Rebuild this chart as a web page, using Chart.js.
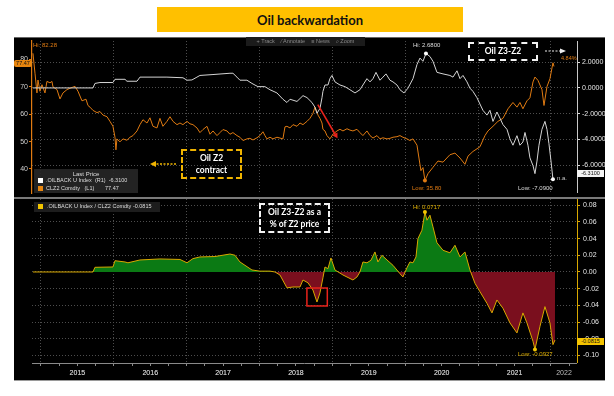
<!DOCTYPE html>
<html><head><meta charset="utf-8">
<script src="https://cdn.jsdelivr.net/npm/chart.js@4.4.0/dist/chart.umd.min.js"></script>
<style>
html,body{margin:0;padding:0;background:#fff;width:614px;height:396px;overflow:hidden;font-family:"Liberation Sans",Arial,sans-serif}
#panel{position:absolute;left:14px;top:37px;width:591px;height:344px;background:#000}
canvas{position:absolute}
.t{position:absolute;white-space:nowrap;line-height:1;font-size:6px}
.box{position:absolute;box-sizing:border-box;color:#fff;font-family:Lato,"Open Sans",sans-serif;font-weight:bold;text-align:center;display:flex;flex-direction:column;justify-content:center;line-height:1.45;font-size:8.5px}
.hl{position:absolute;height:1px}
</style></head><body>
<div id="panel"></div>
<div class="hl" style="left:14px;top:37px;width:591px;background:#666"></div>
<div class="hl" style="left:14px;top:197px;width:591px;height:2px;background:#7a7a7a"></div>
<div class="hl" style="left:14px;top:380px;width:591px;background:#9a9a9a"></div>
<canvas id="c1" width="591" height="160" style="left:14px;top:37px"></canvas>
<canvas id="c2" width="591" height="182" style="left:14px;top:199px"></canvas>

<div style="position:absolute;left:157px;top:7px;width:306px;height:25px;background:#ffc000;display:flex;align-items:center;justify-content:center;font-family:Lato,sans-serif;font-weight:bold;font-size:13px;color:#111">Oil backwardation</div>

<div class="t" style="left:246px;top:37px;width:119px;height:9px;background:#1b1b1b;color:#8a8a8a;font-size:5.5px;line-height:9px;text-align:center">+ Track &nbsp;&nbsp; ⁄ Annotate &nbsp;&nbsp; ≡ News &nbsp;&nbsp; ⌕ Zoom</div>

<div class="t" style="left:33px;top:42px;color:#e07b12">Hi: 82.28</div>
<div class="t" style="left:14px;top:60px;width:18px;height:7px;line-height:7px;background:#e8860f;color:#111;text-align:center;border-radius:2px;font-size:5.5px">77.47</div>
<div class="t" style="left:413px;top:42px;color:#ddd">Hi: 2.6800</div>
<div class="box" style="left:468px;top:42px;width:70px;height:19px;border:2px dashed #f2f2f2">Oil Z3-Z2</div>
<div class="t" style="left:561px;top:56px;color:#e07b12;font-size:5.5px">4.84%</div>
<div class="t" style="left:557px;top:175px;color:#ccc">n.a.</div>
<div class="t" style="left:577px;top:170px;width:27px;height:7px;line-height:7px;background:#f4f4f4;color:#111;text-align:center;font-size:5.5px">-6.3100</div>
<div class="t" style="left:518px;top:185px;color:#ddd">Low: -7.0900</div>
<div class="t" style="left:412px;top:185px;color:#e07b12">Low: 35.80</div>

<div class="t" style="left:34px;top:169px;width:104px;height:24px;background:rgba(38,38,38,0.92)"></div>
<div class="t" style="left:34px;top:171px;width:104px;text-align:center;color:#ddd;font-size:6px">Last Price</div>
<div class="t" style="left:38px;top:178px;width:5px;height:5px;background:#fff"></div>
<div class="t" style="left:46px;top:178px;color:#ddd;font-size:5.5px">.OILBACK U Index &nbsp;(R1) &nbsp;-6.3100</div>
<div class="t" style="left:38px;top:186px;width:5px;height:5px;background:#e8860f"></div>
<div class="t" style="left:46px;top:186px;color:#ddd;font-size:5.5px">CLZ2 Comdty &nbsp;&nbsp;(L1) &nbsp;&nbsp;&nbsp;&nbsp;&nbsp;&nbsp;77.47</div>

<div class="box" style="left:181px;top:149px;width:61px;height:30px;border:2px dashed #f0b400">Oil Z2<br>contract</div>

<div class="t" style="left:34px;top:202px;width:126px;height:10px;background:#1d1d1d"></div>
<div class="t" style="left:38px;top:204px;width:5px;height:5px;background:#f2c500"></div>
<div class="t" style="left:47px;top:204px;color:#ddd;font-size:5.5px">.OILBACK U Index / CLZ2 Comdty -0.0815</div>
<div class="box" style="left:259px;top:203px;width:71px;height:30px;border:2px dashed #f2f2f2">Oil Z3-Z2 as a<br>% of Z2 price</div>
<div class="t" style="left:413px;top:204px;color:#e0b000">Hi: 0.0717</div>
<div class="t" style="left:518px;top:351px;color:#e0b000">Low: -0.0927</div>
<div class="t" style="left:577px;top:338px;width:27px;height:7px;line-height:7px;background:#f5c400;color:#111;text-align:center;font-size:5.5px">-0.0815</div>

<svg style="position:absolute;left:0;top:0" width="614" height="396">
  <line x1="176" y1="164" x2="155" y2="164" stroke="#f0b400" stroke-width="1.5" stroke-dasharray="2,1.5"/>
  <polygon points="150,164 156,161 156,167" fill="#f0b400"/>
  <line x1="545" y1="51" x2="561" y2="51" stroke="#eee" stroke-width="1.2" stroke-dasharray="2,1.5"/>
  <polygon points="566,51 560,48.5 560,53.5" fill="#eee"/>
</svg>

<script>
// ---- data ----
const oilDates = [2014.890,2014.918,2014.945,2014.959,2014.986,2015.014,2015.055,2015.082,2015.124,2015.151,2015.165,2015.220,2015.261,2015.302,2015.357,2015.398,2015.467,2015.508,2015.563,2015.618,2015.645,2015.673,2015.714,2015.769,2015.810,2015.851,2015.906,2015.947,2015.988,2016.016,2016.029,2016.043,2016.084,2016.125,2016.180,2016.222,2016.263,2016.318,2016.359,2016.400,2016.455,2016.496,2016.537,2016.592,2016.633,2016.674,2016.729,2016.771,2016.812,2016.867,2016.908,2016.949,2017.004,2017.045,2017.086,2017.141,2017.182,2017.223,2017.278,2017.320,2017.361,2017.416,2017.457,2017.498,2017.553,2017.594,2017.635,2017.690,2017.731,2017.772,2017.827,2017.868,2017.910,2017.965,2018.005,2018.047,2018.074,2018.102,2018.143,2018.184,2018.239,2018.280,2018.321,2018.349,2018.376,2018.418,2018.459,2018.514,2018.555,2018.596,2018.651,2018.692,2018.733,2018.761,2018.788,2018.802,2018.829,2018.857,2018.870,2018.898,2018.925,2018.966,2019.008,2019.063,2019.104,2019.145,2019.200,2019.241,2019.282,2019.337,2019.378,2019.419,2019.474,2019.516,2019.557,2019.612,2019.653,2019.694,2019.749,2019.790,2019.831,2019.886,2019.927,2019.968,2020.023,2020.064,2020.106,2020.161,2020.188,2020.215,2020.243,2020.270,2020.312,2020.380,2020.449,2020.518,2020.613,2020.682,2020.751,2020.819,2020.861,2020.929,2021.025,2021.094,2021.135,2021.204,2021.272,2021.341,2021.410,2021.478,2021.533,2021.574,2021.615,2021.670,2021.711,2021.753,2021.780,2021.821,2021.876,2021.904,2021.945,2021.986,2022.027,2022.041];
const oilZ2 = [82.28,75,67.8,72.5,68.4,70.8,67.8,72,71.5,72,70,69,65.6,67.8,69,69.5,70.2,68.4,64.9,65.5,63.2,62.6,61.4,60.6,61,59.7,59.1,57.4,55.6,51.6,47,51,49.9,51,50.5,51.6,52.2,53.9,56.2,58,56.8,58.7,55.6,55,58.5,55.6,57.4,59.1,57.4,56.2,56.8,56.2,57.4,56.5,56.2,55,53.3,54.4,55.6,52.7,53.9,52.2,53.3,54.4,53.9,52.7,53.3,52.2,51.6,50.4,51,51.2,50.6,51.4,52.2,53.6,52.2,51,51.6,51,51.6,51.3,51,55.4,55.6,55,56.2,55.6,56.8,56.2,57.4,58.5,60.3,62.6,60.8,59.7,58.5,56.8,54.5,53.9,52.2,51,52.7,53.9,54.5,53.9,54.7,54.2,53.9,54.5,53.3,52.2,53.9,52.2,51.3,52.2,51,51.4,51,51.2,51.6,51.8,52.2,51.6,51,50.4,51,48.7,44,39.4,40.5,35.8,38.3,40.6,42.9,42.5,45.2,45.8,44,41.7,44.7,46.4,48.1,52.2,53.9,55.6,57.4,58.5,62,64.3,62.6,64.3,62,64.9,66,71.8,73.6,72.4,69,63.2,70.1,73,78.8,77.47];

const spreadDates = [2014.890,2015.714,2015.741,2015.810,2015.988,2016.016,2016.153,2016.180,2016.318,2016.359,2016.729,2016.949,2017.004,2017.072,2017.141,2017.182,2017.361,2017.594,2017.635,2017.690,2017.731,2017.827,2017.896,2017.978,2018.074,2018.143,2018.239,2018.321,2018.376,2018.418,2018.514,2018.596,2018.651,2018.719,2018.761,2018.788,2018.829,2018.857,2018.870,2018.898,2018.939,2018.966,2018.994,2019.035,2019.104,2019.172,2019.241,2019.310,2019.378,2019.419,2019.474,2019.516,2019.557,2019.598,2019.653,2019.694,2019.735,2019.790,2019.831,2019.886,2019.927,2019.982,2020.037,2020.106,2020.161,2020.202,2020.243,2020.284,2020.339,2020.380,2020.435,2020.518,2020.613,2020.655,2020.710,2020.751,2020.792,2020.847,2020.888,2020.929,2020.984,2021.025,2021.066,2021.121,2021.162,2021.204,2021.258,2021.300,2021.341,2021.396,2021.437,2021.478,2021.533,2021.574,2021.615,2021.643,2021.684,2021.711,2021.753,2021.780,2021.808,2021.835,2021.876,2021.917,2021.945,2021.972,2022.000,2022.027];
const spreadZ3Z2 = [0,0,0.35,0.42,0.42,0.67,0.67,0.52,0.52,0.84,0.84,0.79,0.6,0.62,0.84,0.97,1.04,1.14,1.14,0.84,0.6,0.6,0.35,0.1,0.1,-0.14,-0.39,-0.88,-1.13,-0.88,-1.05,-0.6,-0.75,-1.13,-1.5,-1.97,-1.6,-0.76,-0.27,0.23,0.23,0.72,0.97,0.47,0.23,0.1,-0.14,-0.39,-0.14,0.23,0.72,0.47,0.72,1.21,0.6,0.84,1.09,0.6,0.47,0.23,-0.14,-0.39,-0.02,0.72,1.82,2.32,2.07,2.68,2.44,2.07,1.21,1.09,0.97,0.84,1.33,0.72,0.97,0.47,-0.02,-0.27,-0.76,-1.25,-1.74,-2.11,-1.74,-2.6,-1.87,-2.35,-2.85,-3.22,-3.96,-4.45,-3.71,-4.45,-4.2,-3.46,-4.45,-5.43,-6.04,-6.66,-5.68,-4.45,-3.22,-2.6,-3.22,-4.33,-5.68,-7.09];

const ratioDates = [2014.890,2015.714,2015.741,2015.988,2016.016,2016.153,2016.194,2016.359,2016.633,2016.908,2017.004,2017.086,2017.182,2017.388,2017.594,2017.663,2017.731,2017.896,2018.005,2018.143,2018.212,2018.280,2018.376,2018.459,2018.555,2018.596,2018.665,2018.733,2018.788,2018.829,2018.870,2018.898,2018.939,2018.980,2019.035,2019.145,2019.282,2019.337,2019.378,2019.419,2019.474,2019.529,2019.584,2019.625,2019.680,2019.749,2019.831,2019.927,2019.968,2020.023,2020.064,2020.106,2020.147,2020.174,2020.229,2020.270,2020.298,2020.339,2020.380,2020.435,2020.518,2020.613,2020.682,2020.751,2020.819,2020.888,2020.957,2021.025,2021.121,2021.190,2021.258,2021.341,2021.437,2021.533,2021.615,2021.670,2021.753,2021.780,2021.849,2021.917,2021.986,2022.027,2022.055];
const ratioPct = [0,0,0.0056,0.006,0.0135,0.012,0.011,0.0144,0.0156,0.015,0.011,0.016,0.018,0.0185,0.0215,0.02,0.012,0.0024,0.001,0.001,0,-0.0036,-0.019,-0.018,-0.018,-0.0096,-0.013,-0.0216,-0.036,-0.025,-0.007,0.006,0.004,0.0168,0.0024,-0.0036,-0.0096,-0.006,0,0.012,0.011,0.014,0.024,0.012,0.02,0.0144,0.008,-0.002,-0.006,0.005,0.012,0.011,0.018,0.04,0.05,0.0717,0.062,0.068,0.054,0.035,0.026,0.023,0.032,0.018,0.024,0.0024,-0.0136,-0.0236,-0.0375,-0.049,-0.0335,-0.0435,-0.061,-0.073,-0.049,-0.061,-0.083,-0.0927,-0.065,-0.0415,-0.061,-0.087,-0.0815];

const yearBounds = [2015,2016,2017,2018,2019,2020,2021,2022];
const yearLabels = ['2015','2016','2017','2018','2019','2020','2021','2022'];
const leftTicks = [40,50,60,70,80];
const rightTicks = [-6,-4,-2,0,2];
const ratioTicks = [-0.10,-0.08,-0.06,-0.04,-0.02,0,0.02,0.04,0.06,0.08];

// annotation anchors (data coordinates)
const redArrow = {x1:2018.80, y1:63.5, x2:2019.07, y2:51.2};
const redBox = {x1:2018.65, x2:2018.93, y1:-0.0192, y2:-0.0407};

// ---- view ranges ----
const X_MIN = 2014.877, X_MAX = 2022.357;
const GRID = '#4d4d4d';
const ORANGE = '#e07b12';
Chart.defaults.font.family = '"Liberation Sans", Arial, sans-serif';

function fix(w, h){ return s => { if (w!=null) s.width = w; if (h!=null) s.height = h; s.paddingTop=0; s.paddingBottom=0; s.paddingLeft=0; s.paddingRight=0; }; }
const pts = (xs, ys) => xs.map((x,i)=>({x, y: ys[i]}));
const iMax = a => a.indexOf(Math.max(...a));
const iMin = a => a.indexOf(Math.min(...a));

const oilLow = iMin(oilZ2);
const spHi = iMax(spreadZ3Z2), spLo = iMin(spreadZ3Z2);
const raHi = iMax(ratioPct), raLo = iMin(ratioPct);

function axisLines(rightColor, bottomColor){
  return {
    id:'axisLines',
    afterDraw(chart){
      const {ctx, chartArea:a} = chart;
      ctx.save(); ctx.setLineDash([]);
      ctx.strokeStyle = rightColor; ctx.lineWidth = 1;
      ctx.beginPath(); ctx.moveTo(a.right+0.5, a.top); ctx.lineTo(a.right+0.5, a.bottom); ctx.stroke();
      if (bottomColor){ ctx.strokeStyle = bottomColor; ctx.beginPath(); ctx.moveTo(a.left, a.bottom+0.5); ctx.lineTo(a.right, a.bottom+0.5); ctx.stroke(); }
      ctx.restore();
    }
  };
}

const arrowPlugin = {
  id:'redArrow',
  afterDatasetsDraw(chart){
    const {ctx, scales:{x, yL}} = chart;
    const ax = x.getPixelForValue(redArrow.x1), ay = yL.getPixelForValue(redArrow.y1);
    const bx = x.getPixelForValue(redArrow.x2), by = yL.getPixelForValue(redArrow.y2);
    const ang = Math.atan2(by-ay, bx-ax);
    ctx.save(); ctx.strokeStyle='#e8231b'; ctx.fillStyle='#e8231b'; ctx.lineWidth=1.6;
    ctx.beginPath(); ctx.moveTo(ax,ay); ctx.lineTo(bx-3*Math.cos(ang), by-3*Math.sin(ang)); ctx.stroke();
    ctx.beginPath(); ctx.moveTo(bx,by);
    ctx.lineTo(bx-5*Math.cos(ang)+2.8*Math.sin(ang), by-5*Math.sin(ang)-2.8*Math.cos(ang));
    ctx.lineTo(bx-5*Math.cos(ang)-2.8*Math.sin(ang), by-5*Math.sin(ang)+2.8*Math.cos(ang));
    ctx.closePath(); ctx.fill(); ctx.restore();
  }
};
const boxPlugin = {
  id:'redBox',
  afterDatasetsDraw(chart){
    const {ctx, scales:{x, y}} = chart;
    const l = x.getPixelForValue(redBox.x1), r = x.getPixelForValue(redBox.x2);
    const t = y.getPixelForValue(redBox.y1), b = y.getPixelForValue(redBox.y2);
    ctx.save(); ctx.strokeStyle='#e8231b'; ctx.lineWidth=1.5; ctx.strokeRect(l,t,r-l,b-t); ctx.restore();
  }
};

new Chart(document.getElementById('c1'), {
  type:'line',
  data:{datasets:[
    {data:pts(spreadDates, spreadZ3Z2), yAxisID:'yR', borderColor:'#d4d4d4', borderWidth:1,
     pointRadius:c=>(c.dataIndex===spHi||c.dataIndex===spLo)?2:0, pointBackgroundColor:'#fff', pointBorderWidth:0},
    {data:pts(oilDates, oilZ2), yAxisID:'yL', borderColor:ORANGE, borderWidth:1,
     pointRadius:c=>c.dataIndex===oilLow?2:0, pointBackgroundColor:ORANGE, pointBorderWidth:0}
  ]},
  options:{
    responsive:false, animation:false, devicePixelRatio:1,
    layout:{padding:0},
    plugins:{legend:{display:false}, tooltip:{enabled:false}},
    scales:{
      x:{type:'linear', min:X_MIN, max:X_MAX,
         afterBuildTicks:s=>{s.ticks = yearBounds.map(v=>({value:v}));},
         ticks:{display:false}, grid:{color:GRID, drawTicks:false}, border:{display:false, dash:[1,2]},
         afterFit:fix(null,0)},
      yL:{type:'linear', position:'left', min:31.22, max:86.77,
          afterBuildTicks:s=>{s.ticks = leftTicks.map(v=>({value:v}));},
          ticks:{color:'#cfcfcf', font:{size:7}, padding:1},
          grid:{drawOnChartArea:false, tickLength:3, tickColor:ORANGE},
          border:{color:ORANGE, width:1.2}, afterFit:fix(18,null)},
      yR:{type:'linear', position:'right', min:-8.163, max:3.646,
          afterBuildTicks:s=>{s.ticks = rightTicks.map(v=>({value:v}));},
          ticks:{color:'#e6e6e6', font:{size:7}, padding:2, callback:v=>v.toFixed(4)},
          grid:{color:GRID, tickLength:3, tickColor:'#ddd'},
          border:{display:false, dash:[1,2]}, afterFit:fix(28,null)}
    }
  },
  plugins:[arrowPlugin, axisLines('#c8c8c8', null)]
});

const labelAt = new Map();
const xTicks = [];
yearBounds.forEach((yb,i)=>{
  const end = Math.min(yb+1, X_MAX);
  xTicks.push({value:yb, kind:'b'});
  [0.25,0.5,0.75].forEach(q=>{ if (yb+q < X_MAX) xTicks.push({value:yb+q, kind:'q'}); });
  const mid = +((yb+end)/2).toFixed(4);
  labelAt.set(mid, yearLabels[i]);
  xTicks.push({value:mid, kind:'l'});
});
xTicks.sort((a,b)=>a.value-b.value);

new Chart(document.getElementById('c2'), {
  type:'line',
  data:{datasets:[
    {data:pts(ratioDates, ratioPct), yAxisID:'y', borderColor:'#d8a800', borderWidth:1,
     fill:{target:'origin', above:'#0b7a14', below:'#7a0f1e'},
     pointRadius:c=>(c.dataIndex===raHi||c.dataIndex===raLo)?2:0, pointBackgroundColor:'#f2c500', pointBorderWidth:0}
  ]},
  options:{
    responsive:false, animation:false, devicePixelRatio:1,
    layout:{padding:{left:18, right:0, top:0, bottom:0}},
    plugins:{legend:{display:false}, tooltip:{enabled:false}},
    scales:{
      x:{type:'linear', min:X_MIN, max:X_MAX,
         afterBuildTicks:s=>{s.ticks = xTicks.map(t=>({value:t.value, kind:t.kind}));},
         ticks:{color:'#bdbdbd', font:{size:7}, padding:3, autoSkip:false, maxRotation:0,
                callback:(v)=>labelAt.has(+(+v).toFixed(4)) ? labelAt.get(+(+v).toFixed(4)) : ''},
         grid:{color:c=>(c.tick && c.tick.kind==='b')?GRID:'rgba(0,0,0,0)', tickLength:3,
               tickColor:c=>(c.tick && c.tick.kind!=='l')?'#8a8a8a':'rgba(0,0,0,0)'},
         border:{display:false, dash:[1,2]}, afterFit:fix(null,18)},
      y:{type:'linear', position:'right', min:-0.109, max:0.0874,
         afterBuildTicks:s=>{s.ticks = ratioTicks.map(v=>({value:v}));},
         ticks:{color:'#e6e6e6', font:{size:7}, padding:3, callback:v=>v.toFixed(2)},
         grid:{color:GRID, tickLength:3, tickColor:'#e0a800'},
         border:{display:false, dash:[1,2]}, afterFit:fix(28,null)}
    }
  },
  plugins:[boxPlugin, axisLines('#d8a800', '#8a8a8a')]
});
</script>
</body></html>
